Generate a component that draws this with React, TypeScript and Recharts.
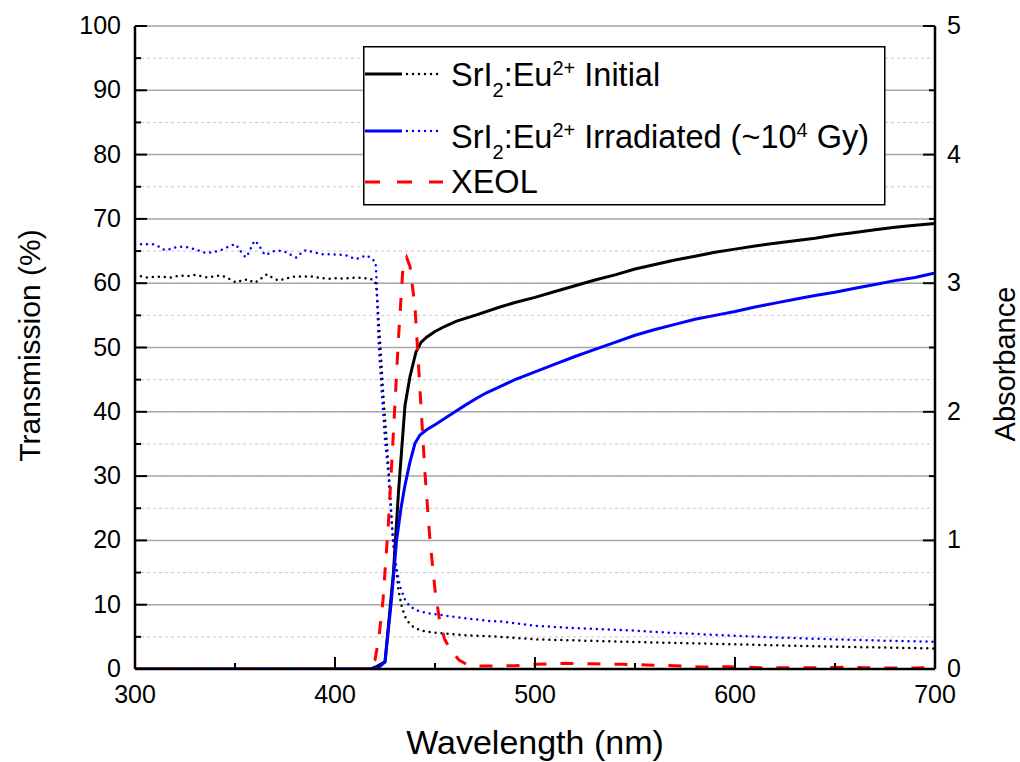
import React from 'react';
import { LineChart, Line, XAxis, YAxis, CartesianGrid, Legend } from 'recharts';

const FONT = '"Liberation Sans", Arial, Helvetica, sans-serif';

// ---- Transmission, SrI2:Eu2+ initial (solid black, %) ----
const transInitWl = [300, 418, 421, 425, 429.2, 431.7, 435, 437.5, 440.5, 443, 445.8, 450, 455, 460.8, 470, 482.5, 490, 500, 510, 520, 530, 540, 550, 560, 570, 580, 590, 600, 610, 620, 630, 640, 650, 660, 670, 680, 690, 700];
const transInitVal = [0, 0, 0.4, 1.1, 14.9, 27.3, 41, 45.5, 49.3, 50.8, 51.6, 52.5, 53.3, 54.1, 55.0, 56.3, 57.0, 57.8, 58.7, 59.6, 60.5, 61.3, 62.2, 62.9, 63.6, 64.2, 64.8, 65.3, 65.8, 66.2, 66.6, 67.0, 67.5, 67.9, 68.3, 68.7, 69.0, 69.3];

// ---- Transmission, irradiated (solid blue, %) ----
const transIrrWl = [300, 419, 422, 425, 428, 430.8, 433, 435, 437.5, 440, 442.5, 445.8, 450, 455, 460, 465, 470.8, 476, 482.5, 490, 500, 510, 520, 530, 540, 550, 560, 570, 580, 590, 600, 610, 620, 630, 640, 650, 660, 670, 680, 690, 700];
const transIrrVal = [0, 0, 0.3, 1.1, 10, 20, 25, 28.6, 32.2, 35.1, 36.4, 37.2, 38.0, 39.0, 40.0, 41.0, 42.1, 43.0, 43.9, 45.0, 46.2, 47.4, 48.6, 49.7, 50.8, 51.9, 52.8, 53.6, 54.4, 55.0, 55.6, 56.3, 56.9, 57.5, 58.1, 58.6, 59.2, 59.8, 60.4, 60.9, 61.6];

// ---- Absorbance, initial (dotted black) ----
const absInitWl = [300, 302.5, 306, 310, 314, 318, 322.5, 326, 330, 333, 336, 339, 342.5, 345, 347.5, 350.5, 354, 357, 359, 361.5, 364, 366, 369, 372, 374, 377.5, 381, 384, 387.5, 392.5, 397.5, 401, 404, 407.5, 411, 414, 417.5, 420, 420.8, 422.5, 424, 425.8, 427.5, 429, 431.7, 433.5, 435.8, 439, 442.5, 446, 452, 462.5, 476, 482.5, 501, 520, 542.5, 570, 601, 625, 651, 675, 700];
const absInitVal = [3.05, 3.055, 3.045, 3.05, 3.05, 3.045, 3.06, 3.055, 3.065, 3.055, 3.045, 3.05, 3.06, 3.05, 3.03, 3.005, 3.025, 3.03, 3.005, 3.015, 3.05, 3.07, 3.04, 3.02, 3.03, 3.045, 3.055, 3.05, 3.055, 3.04, 3.035, 3.04, 3.035, 3.04, 3.045, 3.04, 3.035, 3.015, 2.945, 2.56, 2.17, 1.78, 1.39, 1.0, 0.615, 0.475, 0.38, 0.33, 0.30, 0.29, 0.28, 0.265, 0.255, 0.25, 0.23, 0.2225, 0.2125, 0.2025, 0.192, 0.1825, 0.1735, 0.1665, 0.16];

// ---- Absorbance, irradiated (dotted blue) ----
const absIrrWl = [300, 302.5, 305.8, 308.8, 312, 314.7, 317.5, 320.3, 323.3, 326.3, 329.5, 332.5, 335.5, 338.3, 341.3, 344.5, 347.5, 350.3, 352.2, 353.8, 355.5, 357, 358.3, 359.7, 361.7, 363.3, 365, 367.5, 370, 372.8, 375.8, 378.7, 380.8, 383.3, 385.5, 388.3, 391.3, 394.2, 397.5, 400.8, 403.8, 406.7, 409.7, 412.5, 415.3, 417.8, 420.3, 420.8, 421.7, 423.3, 425, 426.7, 428.3, 430, 432.5, 435, 437.5, 441, 445.8, 460, 476, 482.5, 501, 520, 542.5, 570, 601, 625, 651, 675, 700];
const absIrrVal = [3.3, 3.303, 3.303, 3.303, 3.285, 3.258, 3.264, 3.279, 3.284, 3.279, 3.266, 3.25, 3.233, 3.24, 3.25, 3.266, 3.29, 3.303, 3.264, 3.225, 3.201, 3.24, 3.284, 3.331, 3.303, 3.258, 3.22, 3.233, 3.253, 3.253, 3.24, 3.212, 3.199, 3.24, 3.258, 3.245, 3.233, 3.225, 3.225, 3.222, 3.222, 3.212, 3.188, 3.194, 3.217, 3.199, 3.163, 3.025, 2.56, 2.17, 1.78, 1.52, 1.135, 0.85, 0.64, 0.54, 0.485, 0.455, 0.435, 0.405, 0.375, 0.37, 0.335, 0.318, 0.304, 0.28, 0.257, 0.243, 0.23, 0.22, 0.2125];

// ---- XEOL (dashed red, plotted on the % axis) ----
const xeolWl = [300, 415, 417.5, 420, 422, 424, 426.7, 429, 431.7, 434, 435.8, 437.5, 440, 442.5, 445, 447.5, 450, 452.5, 455, 458, 462, 467, 474, 490, 501, 515, 529, 544, 556, 570, 583, 597, 613, 628, 641, 653, 666, 681, 700];
const xeolVal = [0, 0, 0.4, 1.4, 5, 10.7, 22.7, 35.6, 51.2, 62.6, 64, 62.6, 56.3, 43.4, 30.4, 20, 12.3, 7.1, 4.5, 2.9, 1.4, 0.5, 0.45, 0.5, 0.72, 0.88, 0.8, 0.72, 0.62, 0.52, 0.3, 0.36, 0.2, 0.2, 0.2, 0.26, 0.2, 0.15, 0.2];

const xTicks = [300, 350, 400, 450, 500, 550, 600, 650, 700];
const leftTicks = [0, 5, 10, 15, 20, 25, 30, 35, 40, 45, 50, 55, 60, 65, 70, 75, 80, 85, 90, 95, 100];
const rightTicks = [0, 0.5, 1, 1.5, 2, 2.5, 3, 3.5, 4, 4.5, 5];

const zip = (xs: number[], ys: number[]) => xs.map((x, i) => ({ x, y: ys[i] }));

const transInit = zip(transInitWl, transInitVal);
const transIrr = zip(transIrrWl, transIrrVal);
const absInit = zip(absInitWl, absInitVal);
const absIrr = zip(absIrrWl, absIrrVal);
const xeol = zip(xeolWl, xeolVal);

const TICK_FS = 25;
const axisStyle = { stroke: '#000', strokeWidth: 2.5 };

const LeftTick = (props: any) => {
  const { x, y, payload } = props;
  const v = payload.value;
  const major = v % 10 === 0;
  return (
    <g>
      <line x1={x} x2={x + (major ? 12 : 6)} y1={y} y2={y} stroke="#000" strokeWidth={2} />
      {major && (
        <text x={x - 14} y={y + 8} textAnchor="end" fontSize={TICK_FS} fontFamily={FONT} fill="#000">
          {v}
        </text>
      )}
    </g>
  );
};

const RightTick = (props: any) => {
  const { x, y, payload } = props;
  const v = payload.value;
  const major = Number.isInteger(v);
  return (
    <g>
      <line x1={x} x2={x - (major ? 12 : 6)} y1={y} y2={y} stroke="#000" strokeWidth={2} />
      {major && (
        <text x={x + 12} y={y + 8} textAnchor="start" fontSize={TICK_FS} fontFamily={FONT} fill="#000">
          {v}
        </text>
      )}
    </g>
  );
};

const BottomTick = (props: any) => {
  const { x, y, payload } = props;
  const v = payload.value;
  const major = v % 100 === 0;
  return (
    <g>
      <line x1={x} x2={x} y1={y} y2={y - (major ? 12 : 6)} stroke="#000" strokeWidth={2} />
      {major && (
        <text x={x} y={y + 34} textAnchor="middle" fontSize={TICK_FS} fontFamily={FONT} fill="#000">
          {v}
        </text>
      )}
    </g>
  );
};

const TopTick = (props: any) => {
  const { x, y, payload } = props;
  const v = payload.value;
  const major = v % 100 === 0;
  return <line x1={x} x2={x} y1={y} y2={y + (major ? 12 : 6)} stroke="#000" strokeWidth={2} />;
};

const XTitle = (props: any) => {
  const vb = props.viewBox || { x: 135, y: 669, width: 800, height: 93 };
  return (
    <text x={vb.x + vb.width / 2} y={vb.y + 85} textAnchor="middle" fontSize={34} fontFamily={FONT} fill="#000">
      Wavelength (nm)
    </text>
  );
};

const LeftTitle = (props: any) => {
  const vb = props.viewBox || { x: 0, y: 26, width: 135, height: 643 };
  const cx = vb.x + 40;
  const cy = vb.y + vb.height / 2 - 2;
  return (
    <text x={cx} y={cy} transform={`rotate(-90 ${cx} ${cy})`} textAnchor="middle" fontSize={30} fontFamily={FONT} fill="#000">
      Transmission (%)
    </text>
  );
};

const RightTitle = (props: any) => {
  const vb = props.viewBox || { x: 935, y: 26, width: 85, height: 643 };
  const cx = vb.x + 80;
  const cy = vb.y + 338;
  return (
    <text x={cx} y={cy} transform={`rotate(-90 ${cx} ${cy})`} textAnchor="middle" fontSize={29} fontFamily={FONT} fill="#000">
      Absorbance
    </text>
  );
};

const LFS = 32.5;
const SFS = 20;

const LegendBox = () => (
  <svg width={524} height={161} style={{ display: 'block', overflow: 'visible' }}>
    <rect x={0.75} y={0.75} width={521} height={158} fill="#fff" stroke="#000" strokeWidth={1.5} />
    {/* row 1 */}
    <line x1={2} x2={39} y1={28} y2={28} stroke="#000" strokeWidth={3} />
    <line x1={44} x2={77} y1={28} y2={28} stroke="#000" strokeWidth={2.5} strokeDasharray="0 6" strokeLinecap="round" />
    <text x={88} y={40} fontSize={LFS} fontFamily={FONT} fill="#000">
      SrI<tspan fontSize={SFS} dy={11}>2</tspan>
      <tspan dy={-11}>:Eu</tspan>
      <tspan fontSize={SFS} dy={-11}>2+</tspan>
      <tspan dy={11}>{'\u00A0Initial'}</tspan>
    </text>
    {/* row 2 */}
    <line x1={2} x2={39} y1={85} y2={85} stroke="#0000ff" strokeWidth={3} />
    <line x1={44} x2={77} y1={85} y2={85} stroke="#0000ff" strokeWidth={2.5} strokeDasharray="0 6" strokeLinecap="round" />
    <text x={88} y={101.5} fontSize={LFS} fontFamily={FONT} fill="#000">
      SrI<tspan fontSize={SFS} dy={11}>2</tspan>
      <tspan dy={-11}>:Eu</tspan>
      <tspan fontSize={SFS} dy={-11}>2+</tspan>
      <tspan dy={11}>{'\u00A0Irradiated (~10'}</tspan>
      <tspan fontSize={SFS} dy={-11}>4</tspan>
      <tspan dy={11}>{'\u00A0Gy)'}</tspan>
    </text>
    {/* row 3 */}
    <line x1={2} x2={80} y1={136} y2={136} stroke="#ff0000" strokeWidth={3} strokeDasharray="15 17" />
    <text x={88} y={147} fontSize={LFS} fontFamily={FONT} fill="#000">
      XEOL
    </text>
  </svg>
);

export default function App() {
  return (
    <div style={{ position: 'fixed', left: 0, top: 0, width: 1020, height: 762, background: '#fff' }}>
      <LineChart width={1020} height={762} margin={{ top: 26, right: 0, bottom: 0, left: 0 }}>
        <CartesianGrid xAxisId="b" yAxisId="l" vertical={false} stroke="#c8c8c8" strokeDasharray="3 3" strokeWidth={1} />
        <CartesianGrid xAxisId="b" yAxisId="r" vertical={false} stroke="#a8a8a8" strokeWidth={1.5} />
        <XAxis
          xAxisId="b"
          type="number"
          dataKey="x"
          domain={[300, 700]}
          ticks={xTicks}
          interval={0}
          height={93}
          tickSize={0}
          tickMargin={0}
          tickLine={false}
          axisLine={axisStyle}
          tick={BottomTick}
          label={XTitle}
          allowDataOverflow
        />
        <XAxis
          xAxisId="t"
          orientation="top"
          type="number"
          dataKey="x"
          domain={[300, 700]}
          ticks={xTicks}
          interval={0}
          height={0}
          tickSize={0}
          tickMargin={0}
          tickLine={false}
          axisLine={axisStyle}
          tick={TopTick}
          allowDataOverflow
        />
        <YAxis
          yAxisId="l"
          type="number"
          domain={[0, 100]}
          ticks={leftTicks}
          interval={0}
          width={135}
          tickSize={0}
          tickMargin={0}
          tickLine={false}
          axisLine={axisStyle}
          tick={LeftTick}
          label={LeftTitle}
          allowDataOverflow
        />
        <YAxis
          yAxisId="r"
          orientation="right"
          type="number"
          domain={[0, 5]}
          ticks={rightTicks}
          interval={0}
          width={85}
          tickSize={0}
          tickMargin={0}
          tickLine={false}
          axisLine={axisStyle}
          tick={RightTick}
          label={RightTitle}
          allowDataOverflow
        />
        <Line data={absInit} dataKey="y" xAxisId="b" yAxisId="r" type="linear" stroke="#000" strokeWidth={2.5} strokeDasharray="0 6" strokeLinecap="round" dot={false} isAnimationActive={false} />
        <Line data={absIrr} dataKey="y" xAxisId="b" yAxisId="r" type="linear" stroke="#0000ff" strokeWidth={2.5} strokeDasharray="0 6" strokeLinecap="round" dot={false} isAnimationActive={false} />
        <Line data={transInit} dataKey="y" xAxisId="b" yAxisId="l" type="linear" stroke="#000" strokeWidth={3} dot={false} isAnimationActive={false} />
        <Line data={transIrr} dataKey="y" xAxisId="b" yAxisId="l" type="linear" stroke="#0000ff" strokeWidth={3} dot={false} isAnimationActive={false} />
        <Line data={xeol} dataKey="y" xAxisId="b" yAxisId="l" type="linear" stroke="#ff0000" strokeWidth={3} strokeDasharray="13 14" dot={false} isAnimationActive={false} />
        <Legend
          content={LegendBox}
          layout="vertical"
          align="center"
          verticalAlign="middle"
          wrapperStyle={{ position: 'absolute', left: 363, top: 46, width: 524, height: 161 }}
        />
      </LineChart>
    </div>
  );
}
